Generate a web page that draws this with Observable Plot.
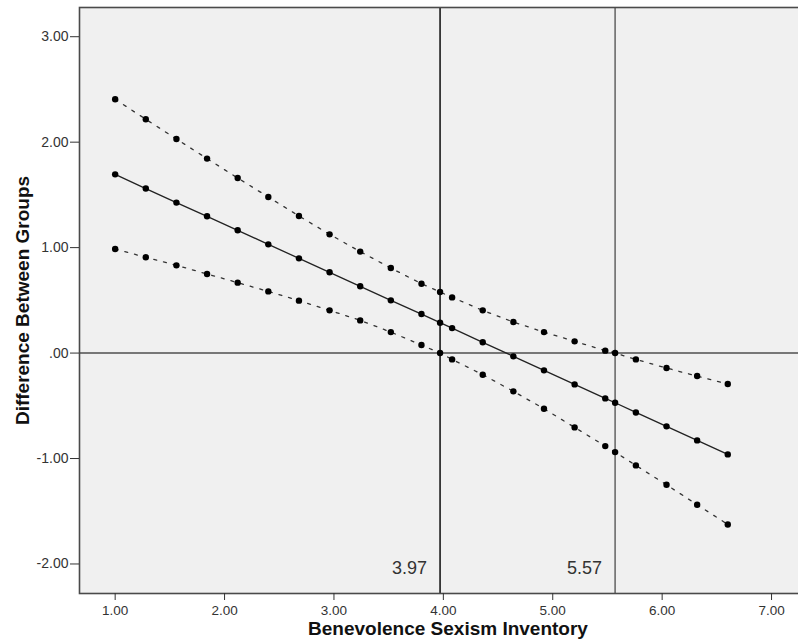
<!DOCTYPE html>
<html>
<head>
<meta charset="utf-8">
<script src="https://cdn.jsdelivr.net/npm/d3@7"></script>
<script src="https://cdn.jsdelivr.net/npm/@observablehq/plot@0.6"></script>
<style>
  html, body { margin: 0; padding: 0; background: #fff; overflow: hidden; }
  #chart svg { display: block; }
</style>
</head>
<body>
<div id="chart"></div>
<script>
// Moderator values (Benevolence Sexism Inventory)
const bsi = [1.00, 1.28, 1.56, 1.84, 2.12, 2.40, 2.68, 2.96, 3.24, 3.52, 3.80, 3.97, 4.08, 4.36, 4.64, 4.92, 5.20, 5.48, 5.57, 5.76, 6.04, 6.32, 6.60];
// Conditional effect (difference between groups)
const effect = [1.695, 1.560, 1.427, 1.297, 1.164, 1.031, 0.898, 0.766, 0.633, 0.500, 0.370, 0.288, 0.237, 0.102, -0.031, -0.164, -0.297, -0.430, -0.471, -0.563, -0.695, -0.828, -0.961];
// Upper confidence bound
const upperCI = [2.407, 2.217, 2.030, 1.844, 1.660, 1.480, 1.300, 1.126, 0.962, 0.806, 0.658, 0.579, 0.528, 0.405, 0.294, 0.199, 0.111, 0.023, 0.000, -0.060, -0.142, -0.218, -0.294];
// Lower confidence bound
const lowerCI = [0.987, 0.908, 0.832, 0.750, 0.668, 0.585, 0.497, 0.405, 0.310, 0.199, 0.076, 0.000, -0.060, -0.205, -0.363, -0.528, -0.705, -0.882, -0.939, -1.065, -1.249, -1.438, -1.625];
// Johnson-Neyman region cutoffs
const cutoffs = [3.97, 5.57];
const cutoffLabels = ["3.97", "5.57"];
const cutoffColors = ["#1a1a1a", "#6a6a6a"];
// Axis ticks
const xTicks = [1, 2, 3, 4, 5, 6, 7];
const yTicks = [-2, -1, 0, 1, 2, 3];
const xTitle = "Benevolence Sexism Inventory";
const yTitle = "Difference Between Groups";

const rows = bsi.map((x, i) => ({x, mid: effect[i], hi: upperCI[i], lo: lowerCI[i]}));
const cuts = cutoffs.map((v, i) => ({v, label: cutoffLabels[i], color: cutoffColors[i]}));

const fmtY = d => d.toFixed(2).replace(/^(-?)0\./, "$1.");
const fmtX = d => d.toFixed(2);

const chart = Plot.plot({
  width: 798,
  height: 643,
  marginLeft: 79,
  marginTop: 7,
  marginBottom: 50,
  marginRight: -18,
  style: {fontFamily: "'Liberation Sans', Arial, sans-serif", background: "#fff", overflow: "visible"},
  x: {domain: [0.674, 7.411]},
  y: {domain: [-2.280, 3.277]},
  marks: [
    Plot.frame({fill: "#f0f0f0", stroke: null}),
    Plot.ruleY([0], {stroke: "#777", strokeWidth: 2}),
    Plot.ruleX(cuts, {x: "v", stroke: "color", strokeWidth: 1.6}),
    Plot.line(rows, {x: "x", y: "hi", stroke: "#333", strokeWidth: 1.3, strokeDasharray: "3,7"}),
    Plot.line(rows, {x: "x", y: "lo", stroke: "#333", strokeWidth: 1.3, strokeDasharray: "3,7"}),
    Plot.line(rows, {x: "x", y: "mid", stroke: "#222", strokeWidth: 1.3}),
    Plot.dot(rows, {x: "x", y: "hi", r: 3.2, fill: "#000", stroke: null}),
    Plot.dot(rows, {x: "x", y: "lo", r: 3.2, fill: "#000", stroke: null}),
    Plot.dot(rows, {x: "x", y: "mid", r: 3.2, fill: "#000", stroke: null}),
    Plot.frame({stroke: "#4a4a4a", strokeWidth: 1.6}),
    Plot.text(cuts, {x: "v", text: "label", frameAnchor: "bottom", textAnchor: "end", dx: -13, dy: -20, fontSize: 18, fill: "#333"}),
    Plot.axisX({ticks: xTicks, tickFormat: fmtX, tickSize: 7, tickPadding: 5, fontSize: 13.5, color: "#333", label: null}),
    Plot.axisY({ticks: yTicks, tickFormat: fmtY, tickSize: 9, tickPadding: 2, fontSize: 14, color: "#333", label: null}),
    Plot.text([xTitle], {text: d => d, frameAnchor: "bottom", dy: 41, fontSize: 19, fontWeight: "bold", fill: "#111"}),
    Plot.text([yTitle], {text: d => d, frameAnchor: "left", textAnchor: "middle", dx: -57, rotate: -90, fontSize: 19, fontWeight: "bold", fill: "#111"})
  ]
});
document.getElementById("chart").appendChild(chart);
</script>
</body>
</html>
